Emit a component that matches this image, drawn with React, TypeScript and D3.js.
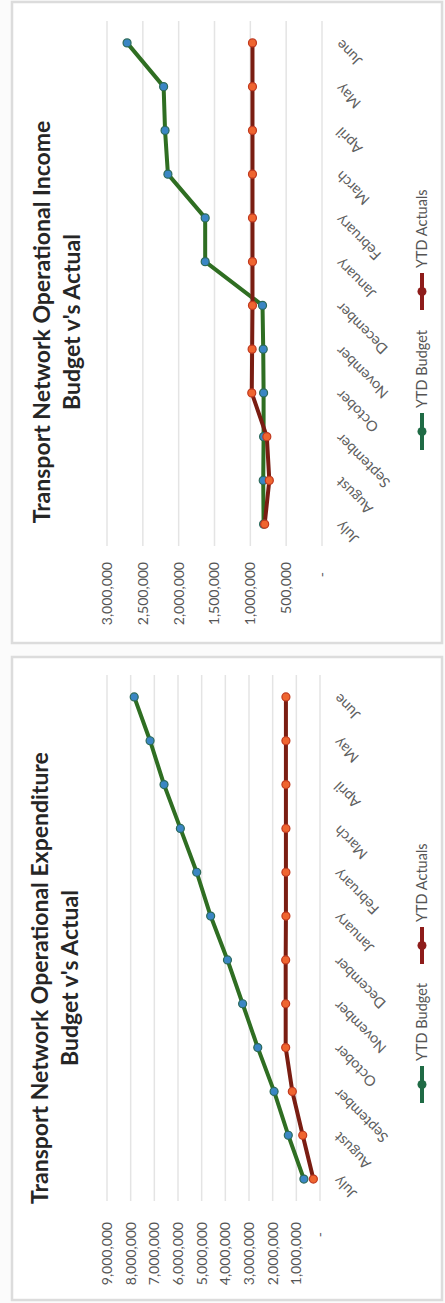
import React from 'react';
import * as d3 from 'd3';

const months = ['July', 'August', 'September', 'October', 'November', 'December', 'January', 'February', 'March', 'April', 'May', 'June'];

const incomeBudget = [815000, 820000, 815000, 815000, 820000, 830000, 1630000, 1630000, 2150000, 2190000, 2210000, 2720000];
const incomeActual = [800000, 735000, 770000, 980000, 975000, 970000, 970000, 970000, 970000, 970000, 970000, 970000];
const incomeTicks = [0, 500000, 1000000, 1500000, 2000000, 2500000, 3000000];

const expBudget = [680000, 1340000, 1940000, 2630000, 3270000, 3910000, 4620000, 5210000, 5900000, 6590000, 7180000, 7850000];
const expActual = [280000, 730000, 1170000, 1450000, 1450000, 1450000, 1440000, 1440000, 1440000, 1440000, 1440000, 1440000];
const expTicks = [0, 1000000, 2000000, 3000000, 4000000, 5000000, 6000000, 7000000, 8000000, 9000000];

const seriesNames = ['YTD Budget', 'YTD Actuals'];

const FONT = 'Lato, "Open Sans", sans-serif';
const fmt = d3.format(',');

type ChartProps = {
  panel: [number, number, number, number];
  plotU: [number, number];
  plotV: [number, number];
  yMax: number;
  ticks: number[];
  budget: number[];
  actual: number[];
  title: [string, string];
  titleU: number;
  titleV: [number, number];
  labelGap: number;
  legendU: [number, number];
};

function Chart(p: ChartProps) {
  const x = d3.scaleBand<string>().domain(months).range(p.plotU).paddingInner(0).paddingOuter(0);
  const y = d3.scaleLinear().domain([0, p.yMax]).range(p.plotV);
  const cx = (m: string) => (x(m) as number) + x.bandwidth() / 2;
  const line = d3.line<number>().x((_, i) => cx(months[i])).y((d) => y(d));
  const [pu0, pv0, pu1, pv1] = p.panel;
  const axisV = p.plotV[0];
  return (
    <g>
      <rect x={pu0} y={pv0} width={pu1 - pu0} height={pv1 - pv0} fill="#fff" stroke="#dcdcdc" strokeWidth={2.5} />
      {p.ticks.map((t) => (
        <line key={'g' + t} x1={p.plotU[0]} x2={p.plotU[1]} y1={y(t)} y2={y(t)} stroke="#e4e4e4" strokeWidth={1.5} />
      ))}
      {p.ticks.map((t) => (
        <text key={'t' + t} x={p.plotU[0] - p.labelGap - (t === 0 ? 10 : 0)} y={y(t)} dy="0.35em" textAnchor="end"
          fontFamily={FONT} fontSize={14} fill="#555">{t === 0 ? '-' : fmt(t)}</text>
      ))}
      {months.map((m) => (
        <text key={m} transform={`translate(${cx(m) + 4},${axisV + 20}) rotate(-45)`} textAnchor="end"
          fontFamily={FONT} fontSize={14.5} fill="#606060">{m}</text>
      ))}
      <path d={line(p.budget) || ''} fill="none" stroke="#2f6e22" strokeWidth={4} strokeLinejoin="round" />
      <path d={line(p.actual) || ''} fill="none" stroke="#7a1d12" strokeWidth={4} strokeLinejoin="round" />
      {p.budget.map((d, i) => (
        <circle key={'b' + i} cx={cx(months[i])} cy={y(d)} r={4} fill="#3a86c4" stroke="#2b6a5a" strokeWidth={1.2} />
      ))}
      {p.actual.map((d, i) => (
        <circle key={'a' + i} cx={cx(months[i])} cy={y(d)} r={4} fill="#ef6530" stroke="#c0391f" strokeWidth={1.2} />
      ))}
      <text x={p.titleU} y={p.titleV[0]} textAnchor="middle" fontFamily={FONT} fontWeight={700} fontSize={23} fill="#262626">{p.title[0]}</text>
      <text x={p.titleU} y={p.titleV[1]} textAnchor="middle" fontFamily={FONT} fontWeight={700} fontSize={23} fill="#262626">{p.title[1]}</text>
      {seriesNames.map((s, i) => {
        const u = p.legendU[i];
        const col = i === 0 ? '#1f6b45' : '#8e1c1a';
        return (
          <g key={s}>
            <line x1={u} x2={u + 37} y1={422} y2={422} stroke={col} strokeWidth={4} />
            <circle cx={u + 18.5} cy={422} r={4.5} fill={col} />
            <text x={u + 42} y={422} dy="0.35em" fontFamily={FONT} fontSize={14.5} fill="#555">{s}</text>
          </g>
        );
      })}
    </g>
  );
}

export default function App() {
  return (
    <svg width={445} height={1303} style={{ position: 'absolute', left: 0, top: 0, background: '#fff' }}>
      <rect x={0} y={0} width={445} height={1303} fill="#fbfbfb" />
      <g transform="translate(0,1303) rotate(-90)">
        <Chart
          panel={[3, 12, 646, 442]}
          plotU={[102, 628]}
          plotV={[320, 107]}
          yMax={9000000}
          ticks={expTicks}
          budget={expBudget}
          actual={expActual}
          title={['Transport Network Operational Expenditure', "Budget v's Actual"]}
          titleU={325}
          titleV={[48, 78]}
          labelGap={21}
          legendU={[200, 339]}
        />
        <Chart
          panel={[660, 12, 1301, 442]}
          plotU={[757, 1282]}
          plotV={[322, 107]}
          yMax={3000000}
          ticks={incomeTicks}
          budget={incomeBudget}
          actual={incomeActual}
          title={['Transport Network Operational Income', "Budget v's Actual"]}
          titleU={981}
          titleV={[50, 80]}
          labelGap={16}
          legendU={[853, 993]}
        />
      </g>
    </svg>
  );
}
